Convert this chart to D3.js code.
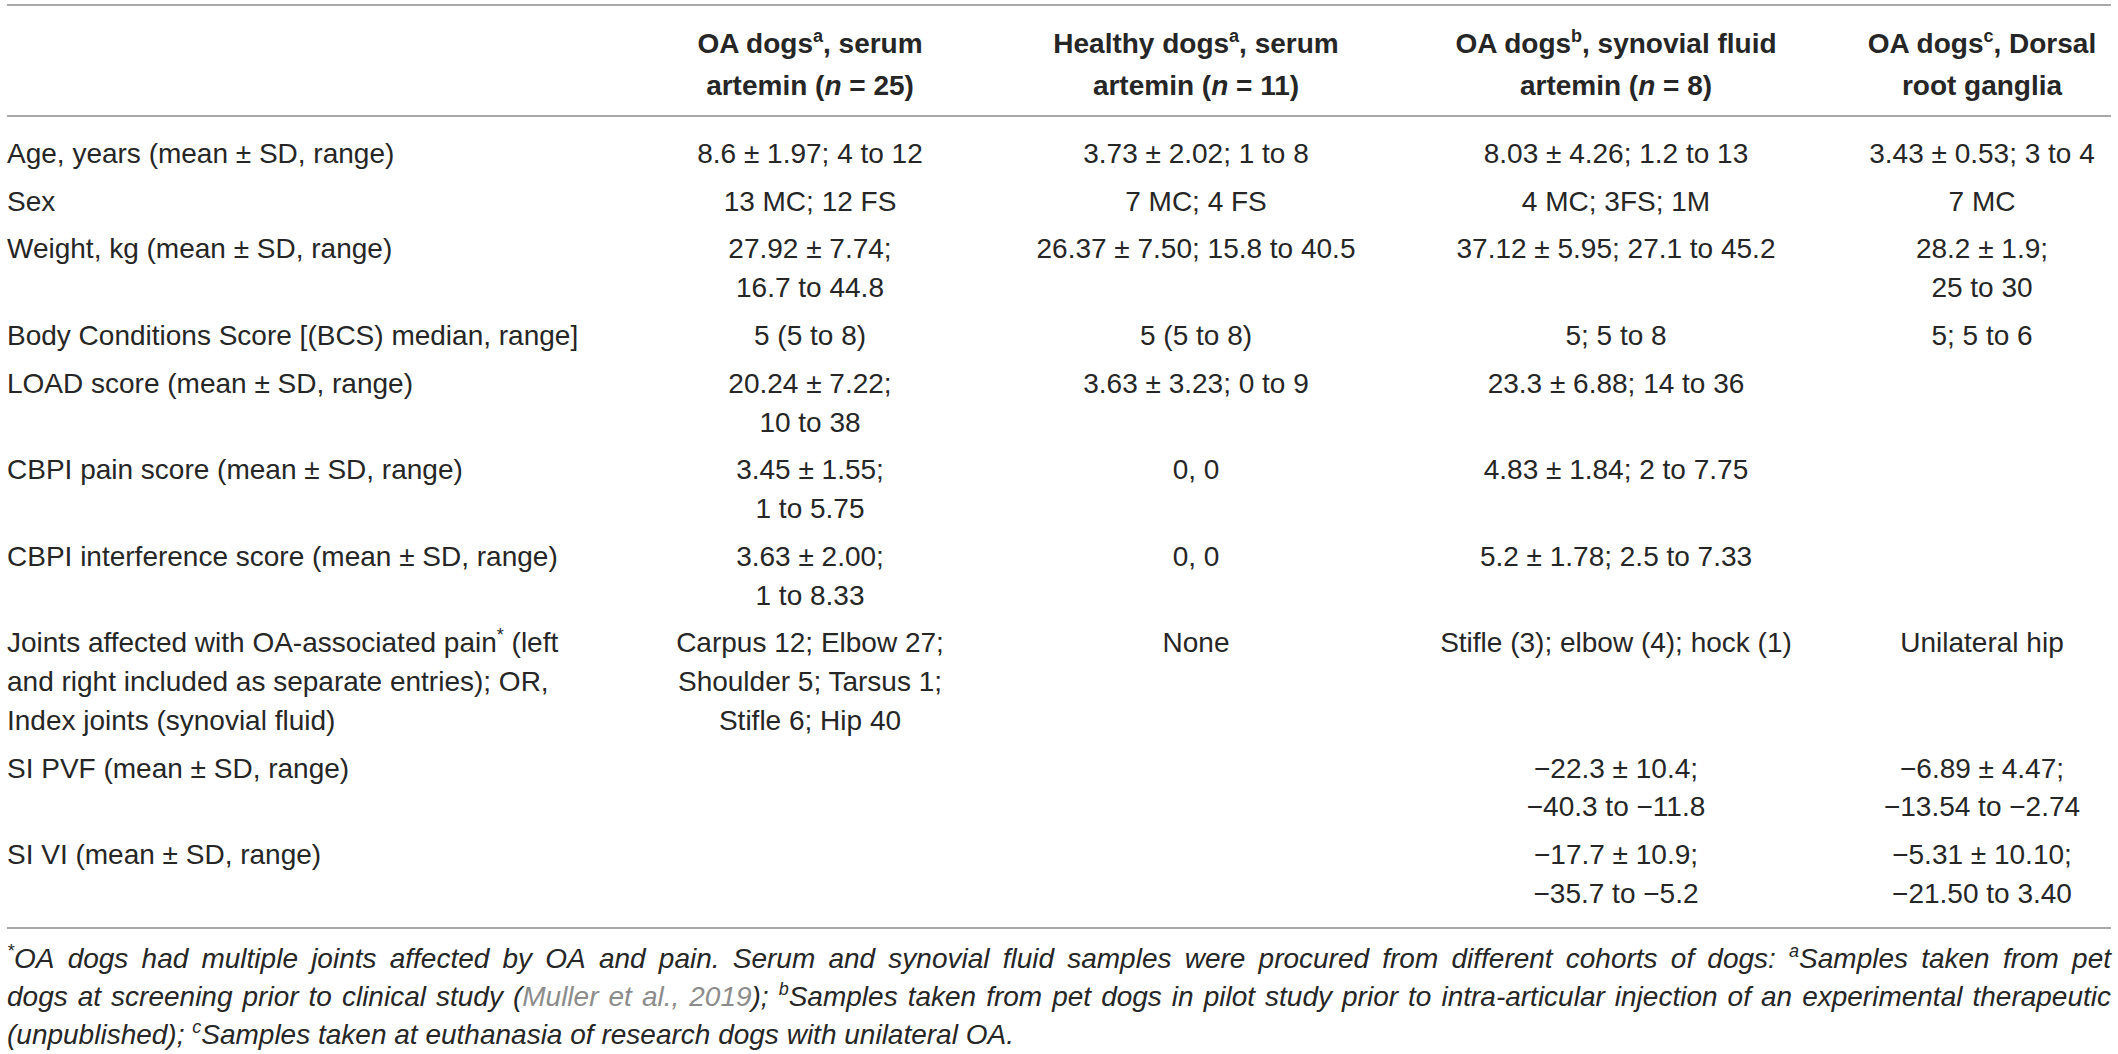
<!DOCTYPE html>
<html lang="en">
<head>
<meta charset="utf-8">
<title>Artemin cohorts</title>
<script src="https://cdn.jsdelivr.net/npm/d3@7"></script>
<style>
  body { margin: 0; background: #fff; }
  svg text { font-family: "Liberation Sans", Arial, Helvetica, sans-serif; font-size: 28px; fill: #262626; }
</style>
</head>
<body>
<script>
// ---- data ----
// each cell is a list of lines; a line is a string or a list of rich segments
var rowLabels = [
  ["Age, years (mean \u00b1 SD, range)"],
  ["Sex"],
  ["Weight, kg (mean \u00b1 SD, range)"],
  ["Body Conditions Score [(BCS) median, range]"],
  ["LOAD score (mean \u00b1 SD, range)"],
  ["CBPI pain score (mean \u00b1 SD, range)"],
  ["CBPI interference score (mean \u00b1 SD, range)"],
  [[{t: "Joints affected with OA-associated pain"}, {t: "*", sup: true}, {t: " (left"}],
   "and right included as separate entries); OR,",
   "Index joints (synovial fluid)"],
  ["SI PVF (mean \u00b1 SD, range)"],
  ["SI VI (mean \u00b1 SD, range)"]
];

var oaSerum = [
  ["8.6 \u00b1 1.97; 4 to 12"],
  ["13 MC; 12 FS"],
  ["27.92 \u00b1 7.74;", "16.7 to 44.8"],
  ["5 (5 to 8)"],
  ["20.24 \u00b1 7.22;", "10 to 38"],
  ["3.45 \u00b1 1.55;", "1 to 5.75"],
  ["3.63 \u00b1 2.00;", "1 to 8.33"],
  ["Carpus 12; Elbow 27;", "Shoulder 5; Tarsus 1;", "Stifle 6; Hip 40"],
  [],
  []
];

var healthySerum = [
  ["3.73 \u00b1 2.02; 1 to 8"],
  ["7 MC; 4 FS"],
  ["26.37 \u00b1 7.50; 15.8 to 40.5"],
  ["5 (5 to 8)"],
  ["3.63 \u00b1 3.23; 0 to 9"],
  ["0, 0"],
  ["0, 0"],
  ["None"],
  [],
  []
];

var oaSynovial = [
  ["8.03 \u00b1 4.26; 1.2 to 13"],
  ["4 MC; 3FS; 1M"],
  ["37.12 \u00b1 5.95; 27.1 to 45.2"],
  ["5; 5 to 8"],
  ["23.3 \u00b1 6.88; 14 to 36"],
  ["4.83 \u00b1 1.84; 2 to 7.75"],
  ["5.2 \u00b1 1.78; 2.5 to 7.33"],
  ["Stifle (3); elbow (4); hock (1)"],
  ["\u221222.3 \u00b1 10.4;", "\u221240.3 to \u221211.8"],
  ["\u221217.7 \u00b1 10.9;", "\u221235.7 to \u22125.2"]
];

var oaGanglia = [
  ["3.43 \u00b1 0.53; 3 to 4"],
  ["7 MC"],
  ["28.2 \u00b1 1.9;", "25 to 30"],
  ["5; 5 to 6"],
  [],
  [],
  [],
  ["Unilateral hip"],
  ["\u22126.89 \u00b1 4.47;", "\u221213.54 to \u22122.74"],
  ["\u22125.31 \u00b1 10.10;", "\u221221.50 to 3.40"]
];

var columnHeads = [
  [[{t: "OA dogs"}, {t: "a", sup: true}, {t: ", serum"}],
   [{t: "artemin ("}, {t: "n", it: true}, {t: " = 25)"}]],
  [[{t: "Healthy dogs"}, {t: "a", sup: true}, {t: ", serum"}],
   [{t: "artemin ("}, {t: "n", it: true}, {t: " = 11)"}]],
  [[{t: "OA dogs"}, {t: "b", sup: true}, {t: ", synovial fluid"}],
   [{t: "artemin ("}, {t: "n", it: true}, {t: " = 8)"}]],
  [[{t: "OA dogs"}, {t: "c", sup: true}, {t: ", Dorsal"}],
   "root ganglia"]
];

var footnoteLines = [
  [{t: "*", sup: true},
   {t: "OA dogs had multiple joints affected by OA and pain. Serum and synovial fluid samples were procured from different cohorts of dogs: "},
   {t: "a", sup: true}, {t: "Samples taken from pet"}],
  [{t: "dogs at screening prior to clinical study ("}, {t: "Muller et al., 2019", gray: true},
   {t: "); "}, {t: "b", sup: true},
   {t: "Samples taken from pet dogs in pilot study prior to intra-articular injection of an experimental therapeutic"}],
  [{t: "(unpublished); "}, {t: "c", sup: true},
   {t: "Samples taken at euthanasia of research dogs with unilateral OA."}]
];

var columns = [oaSerum, healthySerum, oaSynovial, oaGanglia];

// ---- layout ----
var w = 2118, h = 1054;
var left = 7, right = 2111;
var colEdges = [608, 1012, 1380, 1852, 2112];
var colCenters = d3.pairs(colEdges).map(function(p) { return (p[0] + p[1]) / 2; });
var x = d3.scaleOrdinal().domain(d3.range(columns.length)).range(colCenters);

var rowGap = 0.23;   // extra space between rows, in line units
var pos = 0;
var rowStart = rowLabels.map(function(lab, i) {
  var n = d3.max([lab].concat(columns.map(function(c) { return c[i]; })), function(c) { return c.length; });
  if (i > 0) pos += 1 + rowGap;
  var s = pos;
  pos += n - 1;
  return s;
});
var y = d3.scaleLinear().domain([0, pos]).range([153, 893]);
var base = 10;   // line centre -> baseline

var svg = d3.select("body").append("svg")
  .attr("width", w)
  .attr("height", h);

function rich(textSel, line) {
  var segs = typeof line === "string" ? [{t: line}] : line;
  var raised = false;
  segs.forEach(function(s) {
    var ts = textSel.append("tspan").text(s.t);
    if (s.sup) {
      ts.style("font-size", "18px").attr("dy", -11);
      raised = true;
    } else if (raised) {
      ts.attr("dy", 11);
      raised = false;
    }
    if (s.it) ts.style("font-style", "italic");
    if (s.gray) ts.style("fill", "#8c8c8c");
  });
  return textSel;
}

// rules
[5, 116, 928].forEach(function(ry) {
  svg.append("line")
    .attr("x1", left).attr("x2", right)
    .attr("y1", ry).attr("y2", ry)
    .attr("stroke", "#a8a8a8")
    .attr("stroke-width", 2);
});

// column heads
columnHeads.forEach(function(head, c) {
  head.forEach(function(line, k) {
    rich(svg.append("text")
      .attr("x", x(c))
      .attr("y", [43, 85][k] + base)
      .attr("text-anchor", "middle")
      .style("font-weight", "bold"), line);
  });
});

// row labels
rowLabels.forEach(function(lab, i) {
  lab.forEach(function(line, k) {
    rich(svg.append("text")
      .attr("x", left)
      .attr("y", y(rowStart[i] + k) + base), line);
  });
});

// cells
columns.forEach(function(col, c) {
  col.forEach(function(cell, i) {
    cell.forEach(function(line, k) {
      rich(svg.append("text")
        .attr("x", x(c))
        .attr("y", y(rowStart[i] + k) + base)
        .attr("text-anchor", "middle"), line);
    });
  });
});

// footnote, first two lines justified
function splitWords(segs) {
  var out = [[]];
  segs.forEach(function(s) {
    s.t.split(" ").forEach(function(p, k) {
      if (k > 0) out.push([]);
      if (p.length) out[out.length - 1].push(Object.assign({}, s, {t: p}));
    });
  });
  return out.filter(function(wd) { return wd.length; });
}

var footY = [958, 996, 1034];
footnoteLines.forEach(function(line, k) {
  var ws = splitWords(line);
  var texts = ws.map(function(wd) {
    return rich(svg.append("text")
      .attr("y", footY[k] + base)
      .style("font-style", "italic"), wd);
  });
  var widths = texts.map(function(t) { return t.node().getComputedTextLength(); });
  var gap = 7.8;
  if (k < 2) gap = (right - left - d3.sum(widths)) / (ws.length - 1);
  var cx = left;
  texts.forEach(function(t, j) {
    t.attr("x", cx);
    cx += widths[j] + gap;
  });
});
</script>
</body>
</html>
